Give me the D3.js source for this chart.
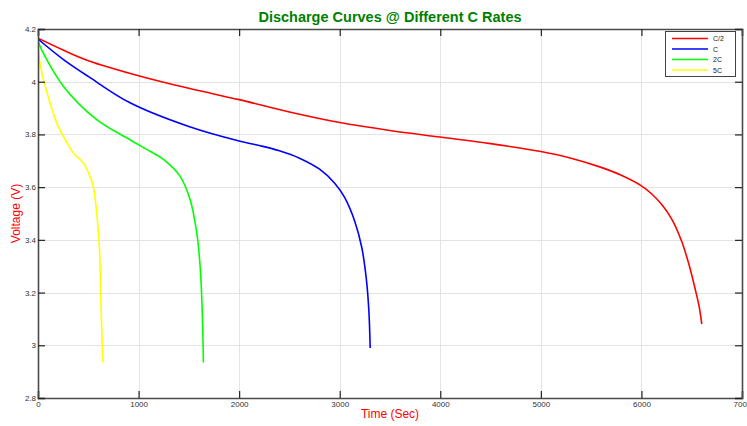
<!DOCTYPE html>
<html>
<head>
<meta charset="utf-8">
<script src="https://cdn.jsdelivr.net/npm/d3@7"></script>
<style>
  html, body { margin: 0; padding: 0; background: #fff; }
  svg { display: block; font-family: "Liberation Sans", Arial, sans-serif; }
</style>
</head>
<body>
<svg id="chart" width="747" height="426"></svg>
<script>
// ---- data ----
const seriesNames = ["C/2", "C", "2C", "5C"];
const seriesColors = ["#ff0000", "#0000ff", "#00ff00", "#ffff00"];

const timeC2 = [0, 250, 500, 1000, 1500, 2000, 2500, 3000, 3500, 4000, 4500, 5000, 5300, 5600, 5800, 6000, 6100, 6200, 6300, 6400, 6470, 6530, 6575, 6600];
const voltC2 = [4.165, 4.12, 4.08, 4.023, 3.975, 3.932, 3.885, 3.845, 3.815, 3.79, 3.765, 3.735, 3.71, 3.675, 3.645, 3.605, 3.575, 3.535, 3.48, 3.395, 3.31, 3.22, 3.145, 3.08];

const timeC = [0, 250, 500, 915, 1500, 2000, 2200, 2400, 2600, 2800, 2950, 3050, 3150, 3220, 3265, 3290, 3303];
const voltC = [4.162, 4.085, 4.02, 3.92, 3.83, 3.775, 3.758, 3.738, 3.71, 3.668, 3.615, 3.56, 3.47, 3.37, 3.25, 3.13, 2.99];

const time2C = [0, 20, 252, 584, 915, 1114, 1247, 1413, 1512, 1579, 1612, 1629, 1645];
const volt2C = [4.158, 4.135, 3.983, 3.856, 3.78, 3.736, 3.705, 3.641, 3.553, 3.426, 3.30, 3.174, 2.935];

const time5C = [0, 20, 53, 119, 186, 252, 351, 451, 517, 550, 584, 610, 624, 644];
const volt5C = [4.13, 4.07, 4.01, 3.92, 3.844, 3.793, 3.73, 3.692, 3.641, 3.603, 3.502, 3.376, 3.186, 2.935];

const xTicks = [0, 1000, 2000, 3000, 4000, 5000, 6000, 7000];
const yTicks = [2.8, 3, 3.2, 3.4, 3.6, 3.8, 4, 4.2];

const titleText = "Discharge Curves @ Different C Rates";
const xLabel = "Time (Sec)";
const yLabel = "Voltage (V)";

// ---- build ----
const series = [
  { name: seriesNames[0], color: seriesColors[0], t: timeC2, v: voltC2 },
  { name: seriesNames[1], color: seriesColors[1], t: timeC, v: voltC },
  { name: seriesNames[2], color: seriesColors[2], t: time2C, v: volt2C },
  { name: seriesNames[3], color: seriesColors[3], t: time5C, v: volt5C }
];

const svg = d3.select("#chart");
const L = 38, R = 742, T = 29, B = 398;

const x = d3.scaleLinear().domain([0, 7000]).range([L, R]);
const y = d3.scaleLinear().domain([2.8, 4.2]).range([B, T]);

svg.append("rect").attr("width", 747).attr("height", 426).attr("fill", "#fff");

// grid
const grid = svg.append("g");
grid.selectAll(".gx").data(xTicks.slice(1, -1)).enter().append("line")
  .attr("x1", d => Math.round(x(d)) + 0.5).attr("x2", d => Math.round(x(d)) + 0.5)
  .attr("y1", T).attr("y2", B).attr("stroke", "#e3e3e3").attr("stroke-width", 1);
grid.selectAll(".gy").data(yTicks.slice(1, -1)).enter().append("line")
  .attr("y1", d => Math.round(y(d)) + 0.5).attr("y2", d => Math.round(y(d)) + 0.5)
  .attr("x1", L).attr("x2", R).attr("stroke", "#e3e3e3").attr("stroke-width", 1);

// curves
svg.append("clipPath").attr("id", "clip").append("rect")
  .attr("x", L).attr("y", T).attr("width", R - L).attr("height", B - T);
const line = d3.line().x(d => x(d[0])).y(d => y(d[1])).curve(d3.curveCatmullRom.alpha(0.5));
svg.append("g").attr("clip-path", "url(#clip)")
  .selectAll("path").data(series).enter().append("path")
  .attr("d", s => line(s.t.map((t, i) => [t, s.v[i]])))
  .attr("fill", "none").attr("stroke", s => s.color).attr("stroke-width", 1.6)
  .attr("stroke-linejoin", "round");

// axes (box with inward ticks)
const axisColor = "#4a4a4a";
const fmt = d => String(+d.toFixed(1));
const gB = svg.append("g").attr("transform", `translate(0,${B})`)
  .call(d3.axisBottom(x).tickValues(xTicks).tickSize(-7).tickPadding(3).tickFormat(d3.format("d")));
const gT = svg.append("g").attr("transform", `translate(0,${T})`)
  .call(d3.axisTop(x).tickValues(xTicks).tickSize(-7).tickFormat(""));
const gL = svg.append("g").attr("transform", `translate(${L},0)`)
  .call(d3.axisLeft(y).tickValues(yTicks).tickSize(-7).tickPadding(2).tickFormat(fmt));
const gR = svg.append("g").attr("transform", `translate(${R},0)`)
  .call(d3.axisRight(y).tickValues(yTicks).tickSize(-7).tickFormat(""));
[gB, gT, gL, gR].forEach(g => {
  g.select(".domain").attr("stroke", axisColor).attr("stroke-width", 1.6);
  g.selectAll(".tick line").attr("stroke", "#222").attr("stroke-width", 1.2);
  g.selectAll(".tick text").attr("fill", "#333").style("font-size", "8px")
    .style("font-family", "'Liberation Sans', Arial, sans-serif");
});

// title & labels
svg.append("text").attr("x", (L + R) / 2).attr("y", 22).attr("text-anchor", "middle")
  .attr("fill", "#008000").style("font-size", "14.5px").style("font-weight", "bold").text(titleText);
svg.append("text").attr("x", (L + R) / 2).attr("y", 418).attr("text-anchor", "middle")
  .attr("fill", "#ff0000").style("font-size", "12px").text(xLabel);
svg.append("text").attr("transform", `translate(20,${(T + B) / 2}) rotate(-90)`)
  .attr("text-anchor", "middle").attr("fill", "#ff0000").style("font-size", "12px").text(yLabel);

// legend
const lg = svg.append("g");
lg.append("rect").attr("x", 665.5).attr("y", 31.5).attr("width", 70).attr("height", 45)
  .attr("fill", "#fff").attr("stroke", "#444").attr("stroke-width", 1);
const items = lg.selectAll(".item").data(series).enter().append("g")
  .attr("transform", (d, i) => `translate(0,${38.5 + i * 10.5})`);
items.append("line").attr("x1", 672).attr("x2", 708).attr("y1", 0).attr("y2", 0)
  .attr("stroke", d => d.color).attr("stroke-width", 1.6);
items.append("text").attr("x", 713).attr("y", 2.5).attr("fill", "#222")
  .style("font-size", "7px").text(d => d.name);
</script>
</body>
</html>
